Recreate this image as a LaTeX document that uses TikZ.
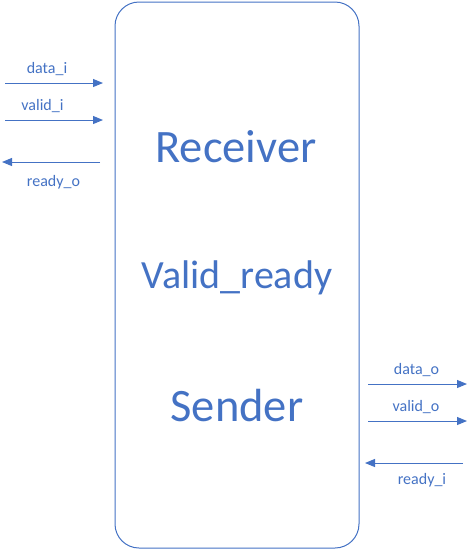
\documentclass[tikz,border=0pt]{standalone}
\usepackage{fontspec}
\setmainfont{Carlito}
\usetikzlibrary{arrows.meta}
\definecolor{wireblue}{HTML}{4472C4}
\tikzset{
  sig/.style={draw=wireblue, line width=1pt, -{Triangle[length=10pt, width=8pt]}},
  siglabel/.style={anchor=base, inner sep=0pt, text=wireblue, font=\fontsize{16}{19}\selectfont},
  blocktext/.style={anchor=base, inner sep=0pt, text=wireblue, font=\fontsize{46.5}{56}\selectfont}
}
\begin{document}
\begin{tikzpicture}[x=1pt, y=-1pt]
  \useasboundingbox (0,0) rectangle (468,550);
  \def\rad{24pt}
  %
  \draw[wireblue, line width=1pt, rounded corners=\rad] (115,2) rectangle (359,548);   % module box
  \node[blocktext] (rx) at (236,162) {Receiver};
  \node[blocktext, font=\fontsize{40}{48}\selectfont] (vr) at (237,288) {Valid\_ready};
  \node[blocktext] (tx) at (237,421) {Sender};
  %
  % left side (inputs to receiver)
  \coordinate (di0) at (5,83);    \coordinate (di1) at (103,83);
  \coordinate (vi0) at (5,120);   \coordinate (vi1) at (103,120);
  \coordinate (ro0) at (100,162); \coordinate (ro1) at (2,162);
  \draw[sig] (di0) -- (di1);
  \draw[sig] (vi0) -- (vi1);
  \draw[sig] (ro0) -- (ro1);
  \node[siglabel] (ldi) at (47,73)  {data\_i};
  \node[siglabel] (lvi) at (42.5,110) {valid\_i};
  \node[siglabel] (lro) at (53.5,186) {ready\_o};
  %
  % right side (outputs of sender)
  \coordinate (do0) at (368,384); \coordinate (do1) at (467,384);
  \coordinate (vo0) at (368,421); \coordinate (vo1) at (467,421);
  \coordinate (ri0) at (463,463); \coordinate (ri1) at (365,463);
  \draw[sig] (do0) -- (do1);
  \draw[sig] (vo0) -- (vo1);
  \draw[sig] (ri0) -- (ri1);
  \node[siglabel] (ldo) at (416.5,374) {data\_o};
  \node[siglabel] (lvo) at (416,411.5) {valid\_o};
  \node[siglabel] (lri) at (422,484) {ready\_i};
  %
\end{tikzpicture}
\end{document}
